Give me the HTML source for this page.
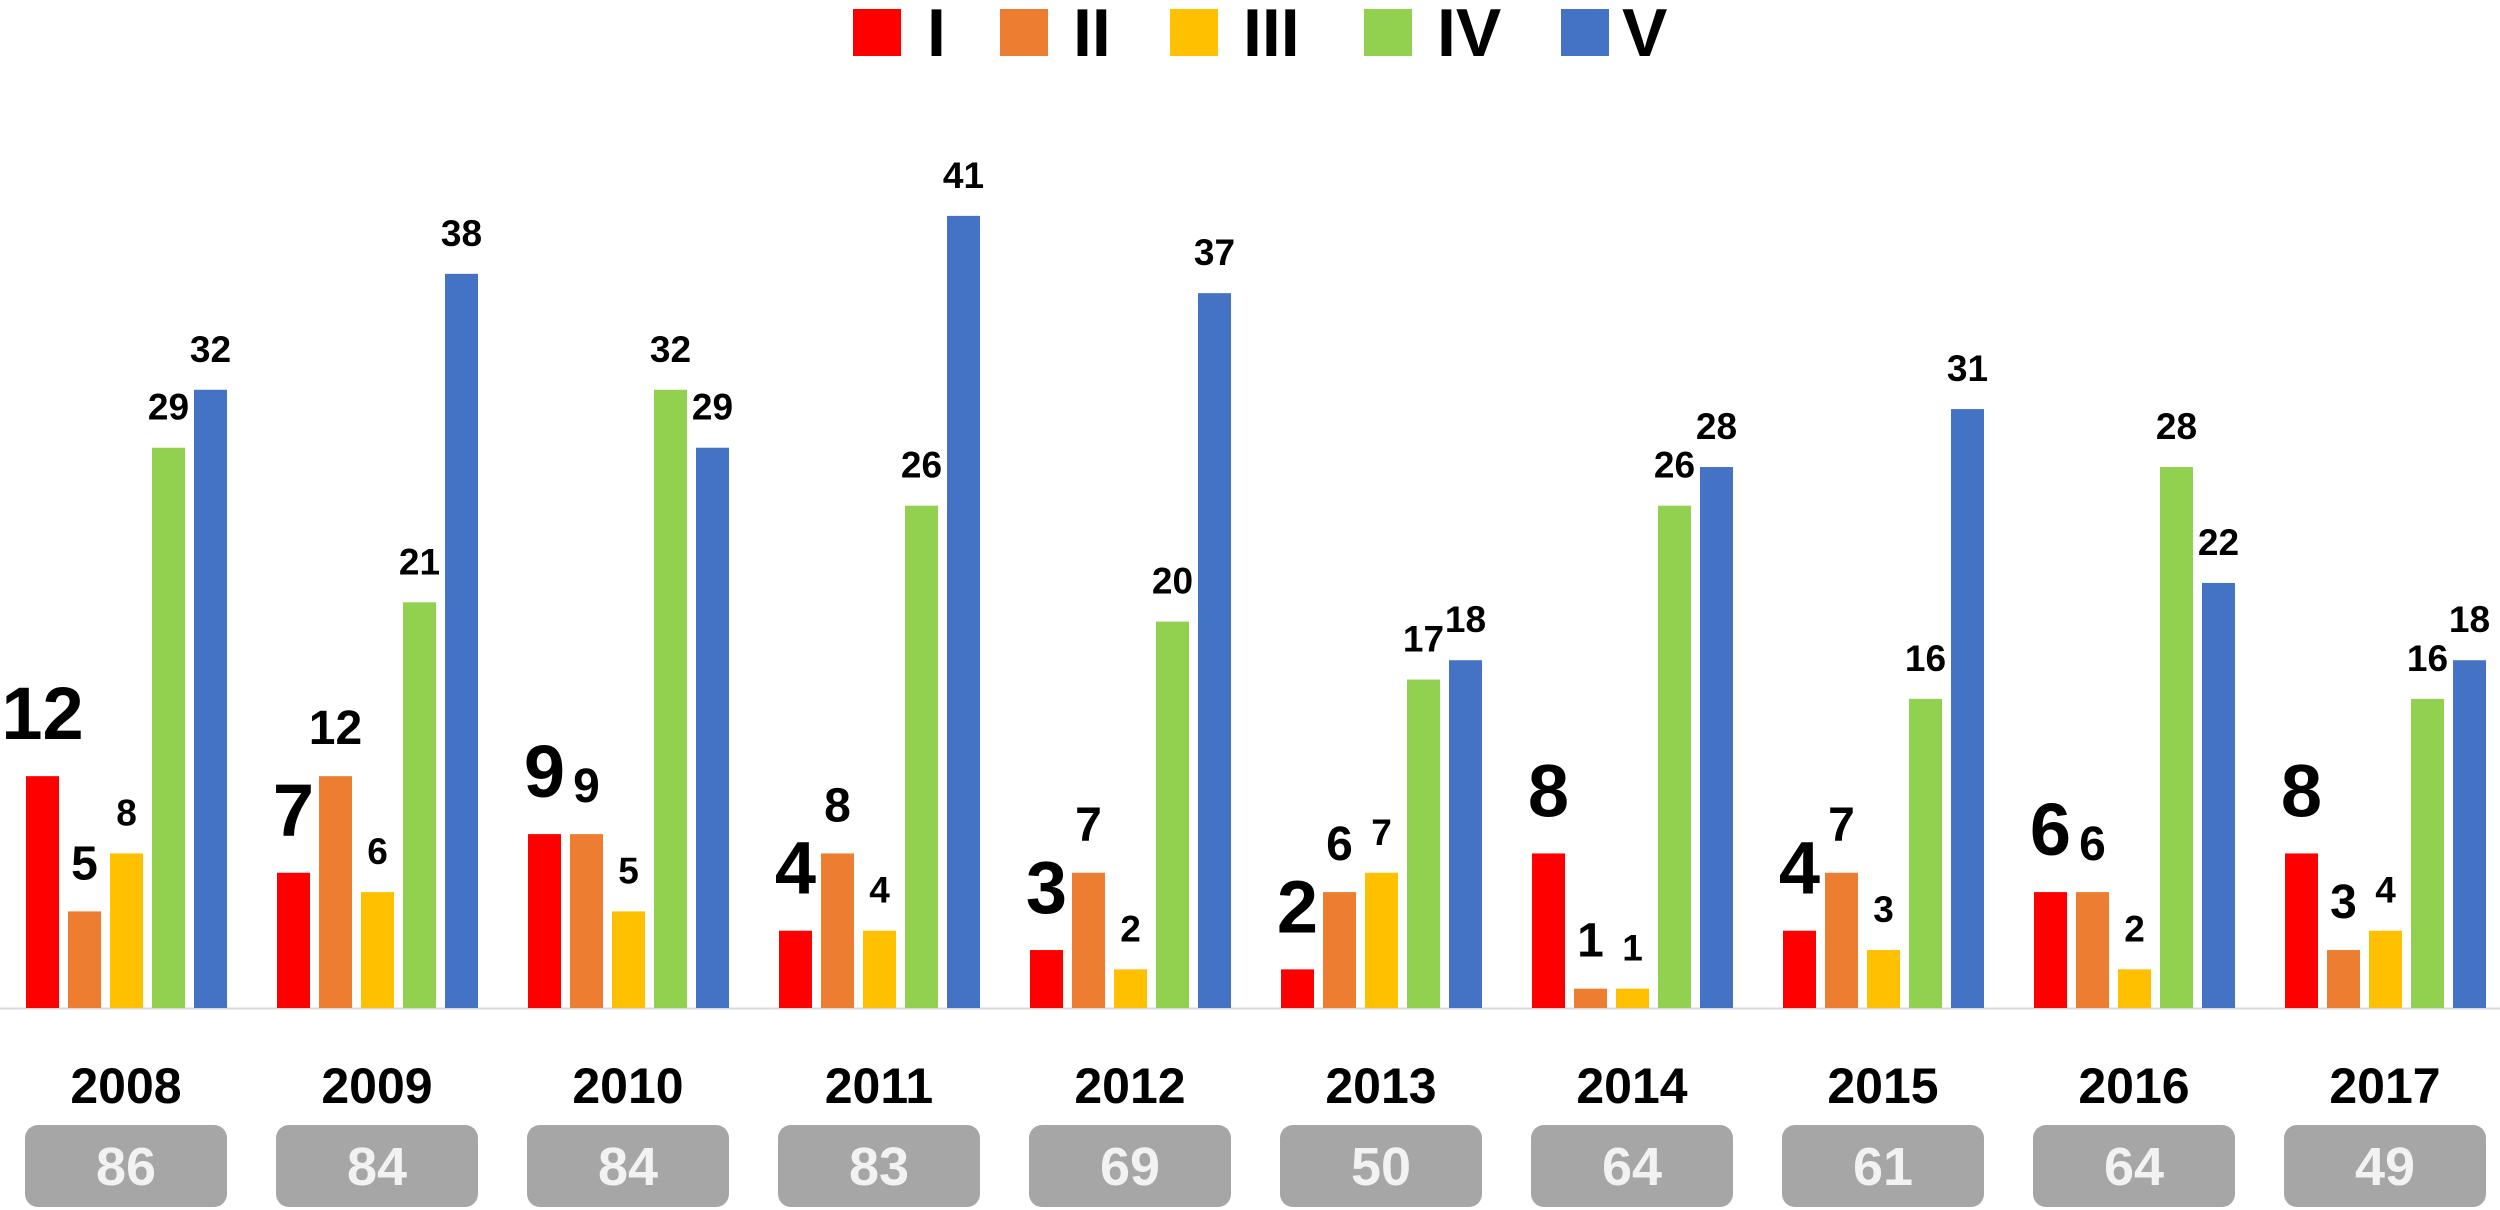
<!DOCTYPE html>
<html><head><meta charset="utf-8"><style>
html,body{margin:0;padding:0;background:#fff;}
svg{display:block;font-family:"Liberation Sans",Arial,sans-serif;font-weight:bold;}
</style></head><body>
<svg id="chart" width="2500" height="1210" viewBox="0 0 2500 1210" xmlns="http://www.w3.org/2000/svg">
<g id="legend">
 <g><rect x="853" y="9" width="48" height="47" fill="#ff0000"/><text x="927" y="56" font-size="68">I</text></g>
 <g><rect x="1000" y="9" width="48" height="47" fill="#ed7d31"/><text x="1073" y="56" font-size="68">II</text></g>
 <g><rect x="1170" y="9" width="48" height="47" fill="#ffc000"/><text x="1243" y="56" font-size="68">III</text></g>
 <g><rect x="1364" y="9" width="48" height="47" fill="#92d050"/><text x="1437" y="56" font-size="68">IV</text></g>
 <g><rect x="1561" y="9" width="48" height="47" fill="#4472c4"/><text x="1622" y="56" font-size="68">V</text></g>
</g>
<line x1="0" y1="1008.5" x2="2500" y2="1008.5" stroke="#d9d9d9" stroke-width="2"/>
<g id="bars"></g>
</svg>
<script>
const years = ["2008","2009","2010","2011","2012","2013","2014","2015","2016","2017"];
const seriesI = [12,7,9,4,3,2,8,4,6,8];
const seriesII = [5,12,9,8,7,6,1,7,6,3];
const seriesIII = [8,6,5,4,2,7,1,3,2,4];
const seriesIV = [29,21,32,26,20,17,26,16,28,16];
const seriesV = [32,38,29,41,37,18,28,31,22,18];
const totals = [86,84,84,83,69,50,64,61,64,49];

const series = [seriesI, seriesII, seriesIII, seriesIV, seriesV];
const names = ["i","ii","iii","iv","v"];
const colors = ["#ff0000","#ed7d31","#ffc000","#92d050","#4472c4"];
const labelSize = [74, 48, 37, 37, 37];
const labelGap = [37, 32, 28, 28, 28];
const NS = "http://www.w3.org/2000/svg";
const g = document.getElementById("bars");
function yScale(v){ return 1008 - 19.32 * v; }
function groupX(i){ return 26 + 251 * i; }
function barX(i, s){ return groupX(i) + 42 * s; }
const BW = 33;
function mk(tag, attrs){ const e = document.createElementNS(NS, tag); for (const k in attrs) e.setAttribute(k, attrs[k]); return e; }

years.forEach((yr, i) => {
  series.forEach((arr, s) => {
    const v = arr[i];
    const r = mk("rect", {x: barX(i, s), y: yScale(v), width: BW, height: 1008 - yScale(v), fill: colors[s]});
    
    
    g.appendChild(r);
    const t = mk("text", {x: barX(i, s) + BW / 2, y: yScale(v) - labelGap[s], "text-anchor": "middle", "font-size": labelSize[s], fill: "#000"});
    t.textContent = v;
    
    
    g.appendChild(t);
  });
  const cx = groupX(i) + 100;
  const yl = mk("text", {x: cx, y: 1103, "text-anchor": "middle", "font-size": 50, fill: "#000"});
  yl.textContent = yr;
  
  
  g.appendChild(yl);
  const box = mk("rect", {x: cx - 101, y: 1125, width: 202, height: 82, rx: 13, fill: "#a6a6a6"});
  
  
  g.appendChild(box);
  const tt = mk("text", {x: cx, y: 1185, "text-anchor": "middle", "font-size": 54, fill: "#f2f2f2"});
  tt.textContent = totals[i];
  
  
  g.appendChild(tt);
});
</script>
</body></html>
